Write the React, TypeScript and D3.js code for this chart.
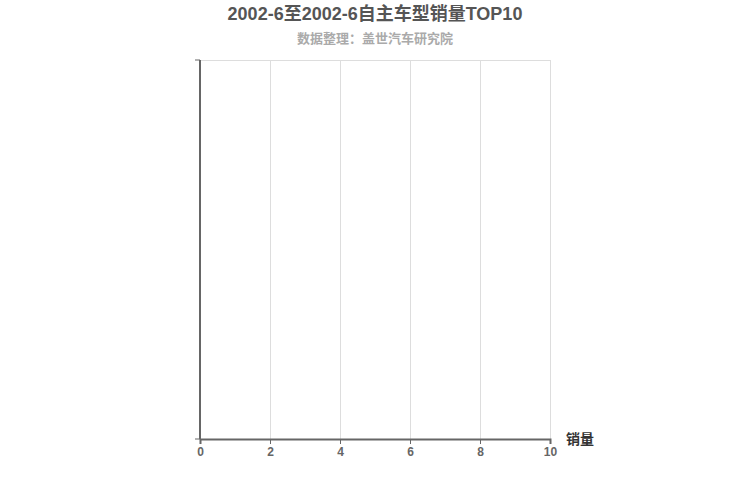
import React, { useEffect, useRef } from 'react';
import * as d3 from 'd3';

const width = 750;
const height = 500;
const margin = { top: 60, right: 200, bottom: 61, left: 200 };

// chart data (the period has no records)
const titleText = '2002-6至2002-6自主车型销量TOP10';
const subtitleText = '数据整理：盖世汽车研究院';
const categories: string[] = [];
const salesValues: number[] = [];
const xDomain = [0, 10];
const xTicks = [0, 2, 4, 6, 8, 10];
const xAxisName = '销量';

const font = '"Liberation Sans", Arial, "Noto Sans CJK SC", sans-serif';

const App: React.FC = () => {
  const ref = useRef<SVGSVGElement>(null);

  useEffect(() => {
    if (!ref.current) return;
    const svg = d3.select(ref.current);
    svg.selectAll('*').remove();

    const innerW = width - margin.left - margin.right;
    const innerH = height - margin.top - margin.bottom;

    const x = d3.scaleLinear().domain(xDomain).range([0, innerW]);
    const y = d3.scaleBand<string>().domain(categories).range([innerH, 0]).padding(0.3);

    // Title
    svg.append('text')
      .attr('x', width / 2)
      .attr('y', 20)
      .attr('text-anchor', 'middle')
      .style('font-family', font)
      .style('font-size', '18px')
      .style('font-weight', 'bold')
      .attr('fill', '#555')
      .text(titleText);

    svg.append('text')
      .attr('x', width / 2)
      .attr('y', 43)
      .attr('text-anchor', 'middle')
      .style('font-family', font)
      .style('font-size', '13px')
      .style('font-weight', 'bold')
      .attr('fill', '#aaa')
      .text(subtitleText);

    const g = svg.append('g')
      .attr('transform', `translate(${margin.left},${margin.top})`);

    // Grid
    g.append('g')
      .selectAll('line')
      .data(xTicks.filter(t => t !== 0))
      .join('line')
      .attr('x1', d => x(d) + 0.5)
      .attr('x2', d => x(d) + 0.5)
      .attr('y1', 0)
      .attr('y2', innerH)
      .attr('stroke', '#ddd')
      .attr('stroke-width', 1);

    g.append('line')
      .attr('x1', 0)
      .attr('x2', innerW)
      .attr('y1', 0.5)
      .attr('y2', 0.5)
      .attr('stroke', '#ddd');

    // Bars
    g.append('g')
      .selectAll('rect')
      .data(categories)
      .join('rect')
      .attr('x', 0)
      .attr('y', d => y(d) ?? 0)
      .attr('height', y.bandwidth())
      .attr('width', (_, i) => x(salesValues[i]))
      .attr('fill', '#c23531');

    // X axis
    const xAxis = g.append('g')
      .attr('transform', `translate(0,${innerH})`)
      .call(d3.axisBottom(x).tickValues(xTicks).tickSize(5).tickPadding(3).tickFormat(d3.format('d')));
    xAxis.select('.domain').attr('stroke', '#666').attr('stroke-width', 2);
    xAxis.selectAll('.tick line').attr('stroke', '#666');
    xAxis.selectAll('.tick text')
      .attr('fill', '#666')
      .style('font-family', font)
      .style('font-size', '12px')
      .style('font-weight', 'bold');

    // Y axis (category, empty) with boundary ticks
    g.append('line')
      .attr('x1', 0)
      .attr('x2', 0)
      .attr('y1', 0)
      .attr('y2', innerH)
      .attr('stroke', '#666')
      .attr('stroke-width', 2);
    g.append('g')
      .selectAll('line')
      .data([0, innerH])
      .join('line')
      .attr('x1', -5)
      .attr('x2', 0)
      .attr('y1', d => d)
      .attr('y2', d => d)
      .attr('stroke', '#666');

    g.append('text')
      .attr('x', innerW + 16)
      .attr('y', innerH + 5)
      .style('font-family', font)
      .style('font-size', '14px')
      .style('font-weight', 'bold')
      .attr('fill', '#333')
      .text(xAxisName);
  }, []);

  return (
    <svg
      ref={ref}
      width={width}
      height={height}
      style={{ position: 'absolute', left: 0, top: 0, background: '#fff' }}
    />
  );
};

export default App;
